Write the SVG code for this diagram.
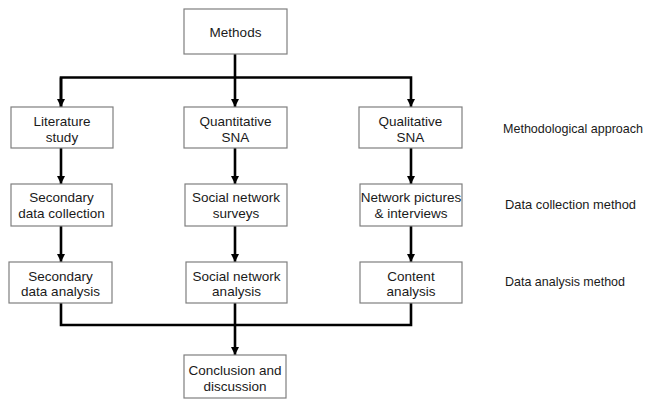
<svg xmlns="http://www.w3.org/2000/svg" width="649" height="401" viewBox="0 0 649 401">
<defs>
<style>
.box{fill:#fff;stroke:#7f7f7f;stroke-width:1.2}
.t{font-family:"Liberation Sans",Arial,sans-serif;font-size:13.5px;fill:#1a1a1a;text-anchor:middle}
.s{font-family:"Liberation Sans",Arial,sans-serif;font-size:13px;fill:#1a1a1a}
.c{fill:none;stroke:#000;stroke-width:2.6}
</style>
<marker id="ah" viewBox="0 0 10 10" refX="10" refY="5" markerWidth="3.2" markerHeight="3.4" orient="auto" markerUnits="strokeWidth">
<path d="M0,0 L10,5 L0,10 z" fill="#000"/>
</marker>
</defs>
<rect width="649" height="401" fill="#fff"/>
<g id="connectors">
<path class="c" d="M235,54 V107" marker-end="url(#ah)"/>
<path class="c" d="M61,107 V77.5 H411 V107" marker-end="url(#ah)"/>
<path class="c" d="M61,77.5 V107" marker-end="url(#ah)"/>
<path class="c" d="M61,148 V184" marker-end="url(#ah)"/>
<path class="c" d="M235,148 V184" marker-end="url(#ah)"/>
<path class="c" d="M411,148 V184" marker-end="url(#ah)"/>
<path class="c" d="M61,226 V262" marker-end="url(#ah)"/>
<path class="c" d="M235,226 V262" marker-end="url(#ah)"/>
<path class="c" d="M411,226 V262" marker-end="url(#ah)"/>
<path class="c" d="M61,303 V325 H411 V303"/>
<path class="c" d="M235,303 V355" marker-end="url(#ah)"/>
</g>
<g id="methods"><rect class="box" x="184" y="9" width="103" height="45"/><text class="t" x="235.5" y="37">Methods</text></g>
<g id="literature"><rect class="box" x="11" y="107" width="102" height="41"/><text class="t" x="62" y="126">Literature</text><text class="t" x="62" y="142">study</text></g>
<g id="quantitative"><rect class="box" x="184" y="107" width="103" height="41"/><text class="t" x="235.5" y="126">Quantitative</text><text class="t" x="235.5" y="142">SNA</text></g>
<g id="qualitative"><rect class="box" x="359" y="107" width="103" height="41"/><text class="t" x="410.5" y="126">Qualitative</text><text class="t" x="410.5" y="142">SNA</text></g>
<g id="secondary-collection"><rect class="box" x="11" y="184" width="101" height="42"/><text class="t" x="61.5" y="202">Secondary</text><text class="t" x="61.5" y="218">data collection</text></g>
<g id="surveys"><rect class="box" x="185" y="184" width="102" height="42"/><text class="t" x="236" y="202">Social network</text><text class="t" x="236" y="218">surveys</text></g>
<g id="pictures"><rect class="box" x="360" y="184" width="102" height="42"/><text class="t" x="411" y="202">Network pictures</text><text class="t" x="411" y="218">&amp; interviews</text></g>
<g id="secondary-analysis"><rect class="box" x="9" y="262" width="103" height="41"/><text class="t" x="60.5" y="281">Secondary</text><text class="t" x="60.5" y="296">data analysis</text></g>
<g id="sna-analysis"><rect class="box" x="186" y="262" width="101" height="41"/><text class="t" x="236.5" y="281">Social network</text><text class="t" x="236.5" y="296">analysis</text></g>
<g id="content"><rect class="box" x="360" y="262" width="102" height="41"/><text class="t" x="411" y="281">Content</text><text class="t" x="411" y="296">analysis</text></g>
<g id="conclusion"><rect class="box" x="184" y="355" width="102" height="43"/><text class="t" x="235" y="375">Conclusion and</text><text class="t" x="235" y="391">discussion</text></g>
<g id="labels">
<text class="s" x="503" y="133" textLength="140" lengthAdjust="spacingAndGlyphs">Methodological approach</text>
<text class="s" x="505" y="209" textLength="131" lengthAdjust="spacingAndGlyphs">Data collection method</text>
<text class="s" x="505" y="286" textLength="120" lengthAdjust="spacingAndGlyphs">Data analysis method</text>
</g>
</svg>
